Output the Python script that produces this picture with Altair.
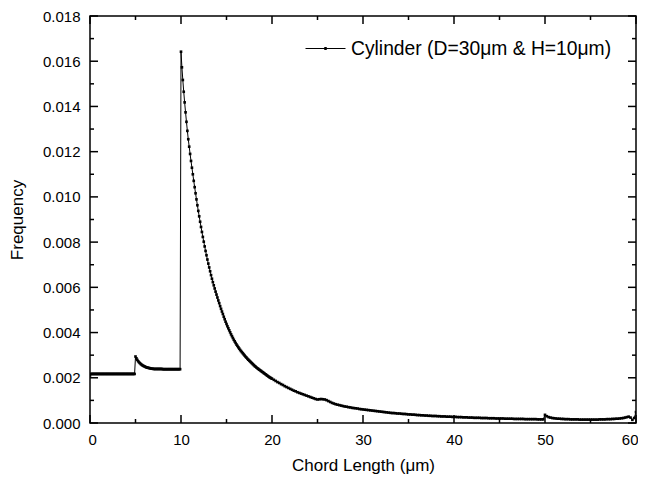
import altair as alt
import pandas as pd

# Frequency values in units of 1e-5
# chord length 0.0 .. 9.9, step 0.1
freq_0_10 = [
    210, 217, 217, 217, 217, 217, 217, 217, 217, 217,
    217, 217, 217, 217, 217, 217, 217, 217, 217, 217,
    217, 217, 217, 217, 217, 217, 217, 217, 217, 217,
    217, 217, 217, 217, 217, 217, 217, 217, 217, 217,
    217, 217, 217, 217, 217, 217, 217, 217, 217, 217,
    294, 286, 279, 273, 268, 264, 260, 257, 254, 252,
    250, 248, 246, 245, 244, 243, 242, 241, 240, 240,
    239, 239, 239, 239, 239, 239, 239, 239, 239, 239,
    238, 238, 238, 238, 238, 238, 238, 238, 238, 238,
    238, 238, 238, 238, 238, 238, 238, 238, 238, 238,
]
# chord length 10.0 .. 19.9, step 0.1
freq_10_20 = [
    1642, 1573, 1517, 1465, 1418, 1374, 1332, 1292, 1255, 1222,
    1190, 1159, 1129, 1100, 1071, 1043, 1016, 989, 963, 938,
    914, 890, 867, 845, 823, 802, 781, 761, 742, 723,
    705, 688, 671, 654, 638, 623, 609, 595, 581, 568,
    555, 542, 530, 517, 505, 493, 482, 470, 459, 448,
    438, 428, 419, 410, 401, 392, 384, 376, 368, 361,
    354, 347, 341, 335, 329, 323, 318, 313, 308, 303,
    298, 293, 289, 284, 280, 276, 272, 268, 264, 260,
    256, 252, 249, 245, 242, 239, 236, 233, 230, 227,
    224, 221, 218, 215, 212, 209, 206, 203, 201, 198,
]
# chord length 20.0 .. 60.0, step 0.2
freq_20_60 = [
    196, 191, 186, 181, 177, 172, 168, 163, 159, 155,
    151, 147, 143, 140, 136, 133, 130, 127, 124, 121,
    118, 115, 112, 109, 106, 104, 105, 106, 105, 104,
    101, 97, 93, 89, 86, 83, 81, 79, 77, 75,
    73, 72, 70, 69, 67, 66, 65, 64, 62, 61,
    60, 59, 58, 57, 56, 55, 54, 53, 52, 51,
    50, 49, 48, 47, 46, 45, 44, 44, 43, 42,
    42, 41, 40, 40, 39, 38, 38, 37, 37, 36,
    35, 35, 34, 34, 33, 33, 32, 32, 31, 31,
    31, 30, 30, 29, 29, 29, 28, 28, 28, 27,
    27, 27, 26, 26, 26, 25, 25, 25, 24, 24,
    24, 23, 23, 23, 23, 22, 22, 22, 22, 21,
    21, 21, 21, 20, 20, 20, 20, 20, 19, 19,
    19, 19, 19, 18, 18, 18, 18, 18, 18, 17,
    17, 17, 17, 17, 17, 17, 16, 16, 16, 16,
    36, 30, 26, 24, 22, 21, 20, 19, 19, 18,
    18, 17, 17, 17, 16, 16, 16, 16, 16, 15,
    15, 15, 15, 15, 15, 15, 15, 15, 15, 15,
    16, 16, 16, 16, 17, 17, 17, 18, 18, 19,
    19, 20, 21, 22, 24, 26, 28, 24, 14, 22,
    48,
]

x_ticks_major = [0, 10, 20, 30, 40, 50, 60]
x_ticks_minor = [5, 15, 25, 35, 45, 55]
y_ticks_major = [0.0, 0.002, 0.004, 0.006, 0.008, 0.010, 0.012, 0.014, 0.016, 0.018]
y_ticks_minor = [0.001, 0.003, 0.005, 0.007, 0.009, 0.011, 0.013, 0.015, 0.017]

series_name = "Cylinder (D=30\u03bcm & H=10\u03bcm)"

xs = [round(i * 0.1, 1) for i in range(len(freq_0_10) + len(freq_10_20))]
xs += [round(20 + 0.2 * i, 1) for i in range(len(freq_20_60))]
ys = [v * 1e-5 for v in freq_0_10 + freq_10_20 + freq_20_60]
df = pd.DataFrame({"x": xs, "y": ys, "series": series_name})

W, H = 546, 407
FONT = "Liberation Sans"


def X():
    return alt.X(
        "x:Q",
        scale=alt.Scale(domain=[0, 60], nice=False, zero=False),
        axis=alt.Axis(
            values=x_ticks_major, format="d", title="Chord Length (\u03bcm)",
            ticks=False, domain=False, grid=False, labelPadding=9,
            labelFlush=True, labelFlushOffset=2,
            labelFontSize=15, titleFontSize=17, titleFontWeight="normal",
            titlePadding=10, labelFont=FONT, titleFont=FONT,
            labelColor="black", titleColor="black",
        ),
    )


def Y():
    return alt.Y(
        "y:Q",
        scale=alt.Scale(domain=[0, 0.018], nice=False, zero=True),
        axis=alt.Axis(
            values=y_ticks_major, format=".3f", title="Frequency",
            ticks=False, domain=False, grid=False, labelPadding=10,
            labelFontSize=15, titleFontSize=17, titleFontWeight="normal",
            titlePadding=16, labelFont=FONT, titleFont=FONT,
            labelColor="black", titleColor="black",
        ),
    )


legend = alt.Legend(
    orient="none", legendX=215, legendY=12, title=None, padding=0,
    symbolType="M-1,0H1M-0.05,-0.05H0.05V0.05H-0.05Z", symbolSize=1600,
    symbolStrokeWidth=1, symbolStrokeColor="black",
    labelFontSize=19.3, labelFont=FONT, labelColor="black", labelOffset=5,
    labelLimit=400,
)

line = alt.Chart(df).mark_line(strokeWidth=1, clip=True).encode(
    x=X(), y=Y(),
    color=alt.Color("series:N", scale=alt.Scale(range=["black"]), legend=legend),
)
points = alt.Chart(df).mark_point(
    shape="square", filled=True, size=7, opacity=1, color="black", clip=True
).encode(x=X(), y=Y())

xmaj = pd.DataFrame({"x": x_ticks_major})
xmin = pd.DataFrame({"x": x_ticks_minor})
ymaj = pd.DataFrame({"y": y_ticks_major})
ymin = pd.DataFrame({"y": y_ticks_minor})

tick_layers = []
for d, L in ((xmaj, 8), (xmin, 4)):
    tick_layers.append(alt.Chart(d).mark_rule(color="black", strokeWidth=1.5).encode(
        x=X(), y=alt.value(H), y2=alt.value(H - L)))
    tick_layers.append(alt.Chart(d).mark_rule(color="black", strokeWidth=1.5).encode(
        x=X(), y=alt.value(0), y2=alt.value(L)))
for d, L in ((ymaj, 8), (ymin, 4)):
    tick_layers.append(alt.Chart(d).mark_rule(color="black", strokeWidth=1.5).encode(
        y=Y(), x=alt.value(0), x2=alt.value(L)))
    tick_layers.append(alt.Chart(d).mark_rule(color="black", strokeWidth=1.5).encode(
        y=Y(), x=alt.value(W), x2=alt.value(W - L)))

chart = alt.layer(line, points, *tick_layers).properties(
    width=W, height=H,
    autosize=alt.AutoSizeParams(type="none"),
    padding={"left": 82, "top": 8, "right": 2, "bottom": 51},
    background="white",
).configure_view(stroke="black", strokeWidth=1.5)

chart.save("out.html", embed_options={"renderer": "svg", "actions": False})
